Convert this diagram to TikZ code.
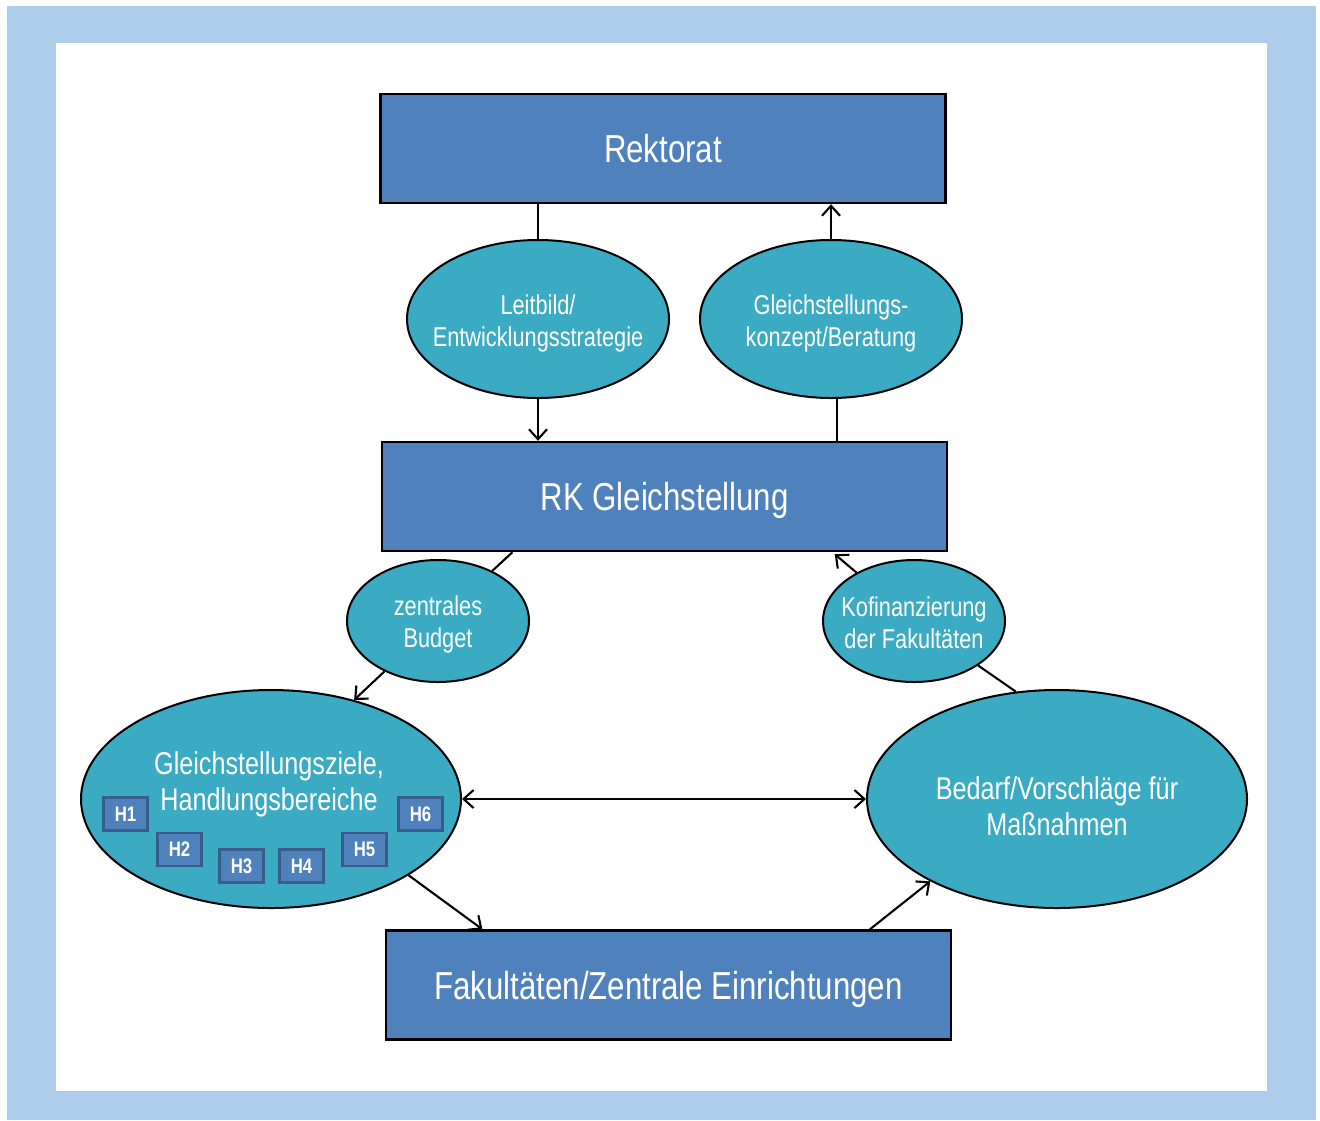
\documentclass[tikz,border=0pt]{standalone}
\usepackage{fontspec}
\setmainfont{Liberation Sans}[FakeStretch=0.80]
\usetikzlibrary{shapes.geometric,arrows.meta,calc}
\definecolor{framecol}{HTML}{AECDEB}
\definecolor{boxblue}{HTML}{4F81BD}
\definecolor{hborder}{HTML}{385D8A}
\definecolor{aqua}{HTML}{3BABC4}
\tikzset{
  bigbox/.style={draw=black, line width=1.2pt, fill=boxblue, text=white,
    minimum width=282.5pt, minimum height=54.5pt, inner sep=0pt, text depth=0pt,
    font=\fontsize{19.5}{22}\selectfont},
  oval/.style={ellipse, draw=black, line width=1pt, fill=aqua, inner sep=0pt},
  smalloval/.style={oval, minimum width=131pt, minimum height=79pt},
  tinyoval/.style={oval, minimum width=91pt, minimum height=61pt},
  largeoval/.style={oval, minimum width=190pt, minimum height=109pt},
  smalltext/.style={text=white, align=center, inner sep=0pt,
    font=\fontsize{13.6}{16}\selectfont},
  largetext/.style={text=white, align=center, inner sep=0pt,
    font=\fontsize{15.75}{18}\selectfont},
  hbox/.style={draw=hborder, line width=1.4pt, fill=boxblue, text=white,
    minimum width=22pt, minimum height=16.5pt, inner sep=0pt,
    font=\fontsize{10.5}{12}\selectfont\bfseries},
  conn/.style={line width=1.05pt, draw=black},
  tip/.tip={Straight Barb[length=5pt,width=9pt,line width=1.05pt]},
  arr/.style={conn, -tip},
  dblarr/.style={conn, tip-tip}
}
\begin{document}
\begin{tikzpicture}[x=0.5pt,y=-0.5pt]
\useasboundingbox (0,0) rectangle (1320,1120);
\fill[framecol] (7,6) rectangle (1316,1120);
\fill[white] (56,43) rectangle (1267,1091);

% main boxes
\node[bigbox] (rekt) at (663,148.5) {Rektorat};
\node[bigbox] (rk) at (664.5,496.5) {RK Gleichstellung};
\node[bigbox] (fak) at (668.5,985) {Fakultäten/Zentrale Einrichtungen};

% ellipses
\node[smalloval] (leit) at (538,319) {};
\node[smalloval] (gk) at (831,319) {};
\node[tinyoval] (zb) at (438,621) {};
\node[tinyoval] (kofi) at (914,621) {};
\node[largeoval] (gz) at (271,799) {};
\node[largeoval] (bd) at (1057,799) {};

% ellipse texts
\node[smalltext] (leitt) at (538,323) {Leitbild/\\Entwicklungsstrategie};
\node[smalltext] (gkt) at (831,323) {Gleichstellungs-\\konzept/Beratung};
\node[smalltext] (zbt) at (438,624) {zentrales\\Budget};
\node[smalltext] (kofit) at (914,623) {Kofinanzierung\\der Fakultäten};
\node[largetext] (gzt) at (269,784) {Gleichstellungsziele,\\Handlungsbereiche};
\node[largetext] (bdt) at (1057,806) {Bedarf/Vorschläge für\\Maßnahmen};

% H boxes
\node[hbox] (h1) at (125.5,814) {H1};
\node[hbox] (h2) at (179.5,849.5) {H2};
\node[hbox] (h3) at (241.5,866) {H3};
\node[hbox] (h4) at (301.5,866) {H4};
\node[hbox] (h5) at (364.5,849.5) {H5};
\node[hbox] (h6) at (420.5,814) {H6};

% connectors
\draw[conn] (rekt.south -| leit.north) -- (leit.north);
\draw[arr] (leit.south) -- (leit.south |- rk.north);
\coordinate (rkt2) at ($(rk.north west)!0.804!(rk.north east)$);
\draw[conn] (rkt2) -- (rkt2 |- gk.south);
\draw[arr] (gk.north) -- (gk.north |- rekt.south);

\coordinate (rkb1) at ($(rk.south west)!0.232!(rk.south east)$);
\coordinate (rkb2) at ($(rk.south west)!0.80!(rk.south east)$);
\draw[conn] (rkb1) -- (zb);
\draw[arr] (zb) -- (gz.50);
\draw[conn] (bd.111) -- (kofi);
\draw[arr] (kofi) -- ([yshift=-1pt]rkb2);

\draw[dblarr] (gz.east) -- (bd.west);

\coordinate (fakt1) at ($(fak.north west)!0.172!(fak.north east)$);
\coordinate (fakt2) at ($(fak.north west)!0.855!(fak.north east)$);
\draw[arr] (gz.-29) -- (fakt1);
\draw[arr] (fakt2) -- (bd.213);
\end{tikzpicture}
\end{document}
